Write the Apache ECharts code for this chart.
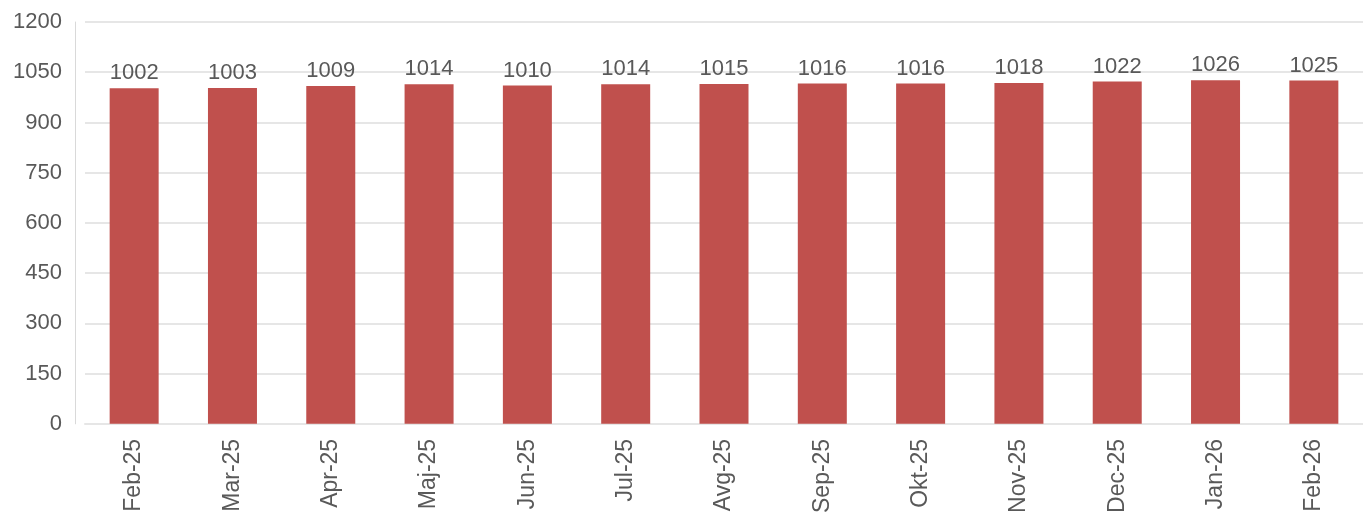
<!DOCTYPE html>
<html>
<head>
<meta charset="utf-8">
<script src="https://cdn.jsdelivr.net/npm/echarts@6/dist/echarts.min.js"></script>
<style>
	html, body { margin: 0; padding: 0; background: #fff; }
	#chart { width: 1363px; height: 516px; }
</style>
</head>
<body>
<div id="chart"></div>
<script>
	var months = ['Feb-25', 'Mar-25', 'Apr-25', 'Maj-25', 'Jun-25', 'Jul-25', 'Avg-25',
		'Sep-25', 'Okt-25', 'Nov-25', 'Dec-25', 'Jan-26', 'Feb-26'];
	var values = [1002, 1003, 1009, 1014, 1010, 1014, 1015, 1016, 1016, 1018, 1022, 1026, 1025];
	var yTicks = { min: 0, max: 1200, step: 150 };

	var chart = echarts.init(document.getElementById('chart'));
	chart.setOption({
		animation: false,
		textStyle: { fontFamily: 'Liberation Sans, Arial, sans-serif' },
		grid: { left: 85, right: 0, top: 22, bottom: 91, containLabel: false },
		xAxis: {
			type: 'category',
			data: months,
			axisTick: { show: false },
			axisLine: { show: true, lineStyle: { color: '#e6e6e6', width: 2 } },
			axisLabel: { rotate: 90, color: '#595959', fontSize: 23, margin: 15 }
		},
		yAxis: {
			type: 'value',
			min: yTicks.min,
			max: yTicks.max,
			interval: yTicks.step,
			offset: 10,
			axisLine: { show: true, lineStyle: { color: '#d9d9d9', width: 1 } },
			axisTick: { show: false },
			axisLabel: {
				color: '#595959', fontSize: 22, margin: 13,
				formatter: function (v) { return String(v); }
			},
			splitLine: { lineStyle: { color: '#e6e6e6', width: 2 } }
		},
		series: [{
			type: 'bar',
			data: values,
			barWidth: 49,
			itemStyle: { color: '#c0504d' },
			label: { show: true, position: 'top', distance: 4, color: '#595959', fontSize: 22 }
		}]
	});
</script>
</body>
</html>
